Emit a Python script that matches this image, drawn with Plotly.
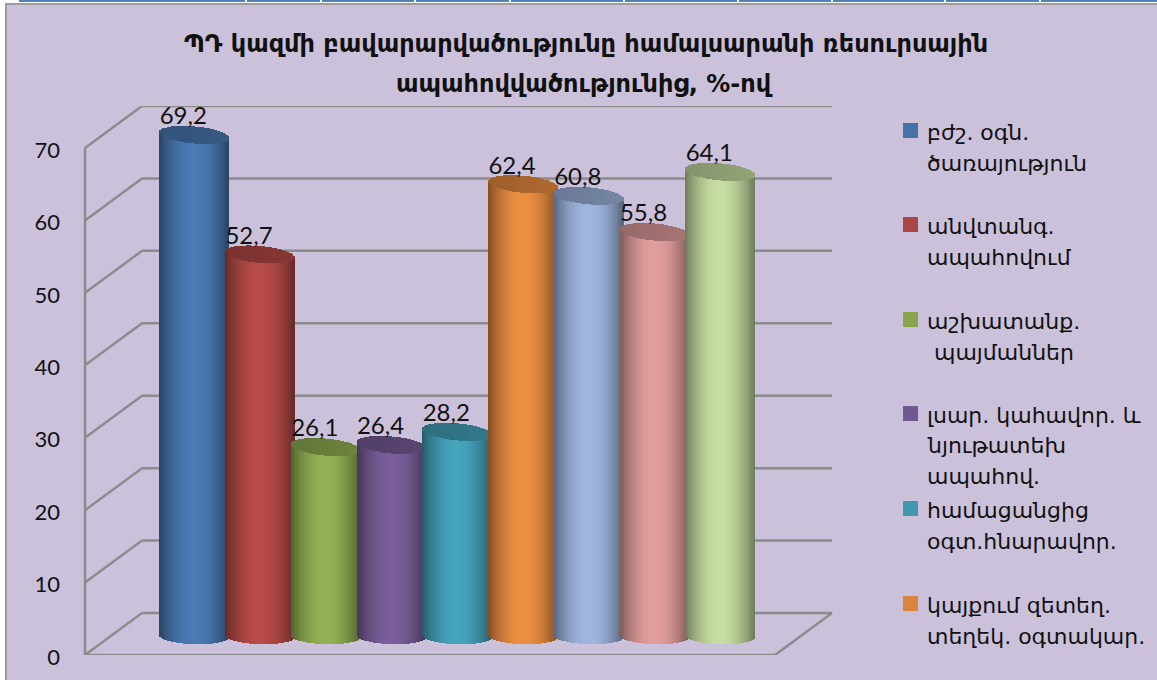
import numpy as np
import plotly.graph_objects as go

values = [69.2, 52.7, 26.1, 26.4, 28.2, 62.4, 60.8, 55.8, 64.1]
bar_colors = ["#4572A7", "#AA4643", "#89A54E", "#71588F", "#4198AF",
              "#DB843D", "#93A9CF", "#D19392", "#B9CD96"]
legend_labels = [
    ["բժշ. օգն.", "ծառայություն"],
    ["անվտանգ.", "ապահովում"],
    ["աշխատանք.", " պայմաններ"],
    ["լսար. կահավոր. և", "նյութատեխ", "ապահով."],
    ["համացանցից", "օգտ.հնարավոր."],
    ["կայքում զետեղ.", "տեղեկ. օգտակար."],
]
legend_swatch_top = [123, 217, 312, 406, 501, 596]
title_lines = ["ՊԴ կազմի բավարարվածությունը համալսարանի ռեսուրսային",
               "ապահովվածությունից, %-ով"]
y_ticks = [0, 10, 20, 30, 40, 50, 60, 70]

W, H = 1157, 680
PLOT_L, PLOT_R, PLOT_T, PLOT_B = 85, 832, 106, 655
Y_MAX = 75.8
PX_PER_UNIT = (PLOT_B - PLOT_T) / Y_MAX
FONT_ARM = "DejaVu Sans"
FONT_NUM = "Lato"


def px(x):
    return (x - PLOT_L) / (PLOT_R - PLOT_L)


def py(y):
    return (PLOT_B - y) / (PLOT_B - PLOT_T)


def shade(hex_color, factor):
    rgb = [int(hex_color[i:i + 2], 16) for i in (1, 3, 5)]
    return "rgb(%d,%d,%d)" % tuple(min(255, int(c * factor)) for c in rgb)


def cylinder_trace(i, value, color):
    # one bar per pixel column gives the round look, side first and the lid on top
    n = 46
    bar_w = 69 / 65.75
    u = (np.arange(n) + 0.5) / n * 2 - 1
    arc = np.sqrt(1 - u ** 2)
    skew = -u * 3 / PX_PER_UNIT
    floor = 2.6
    ry_base = 8 / PX_PER_UNIT
    ry_top = 8.5 / PX_PER_UNIT

    side_base = floor + skew / 3 - ry_base * arc
    side_top = floor + value + skew - ry_top * arc
    lid_top = floor + value + skew + ry_top * arc

    side_col = [shade(color, 1.08 - 0.48 * abs(a) ** 2) for a in u]
    lid_col = [shade(color, 0.76 + 0.04 * a) for a in u]

    xs = i + u * bar_w / 2
    return go.Bar(
        x=np.concatenate([xs, xs]).tolist(),
        y=np.concatenate([side_top - side_base, lid_top - side_top]).tolist(),
        base=np.concatenate([side_base, side_top]).tolist(),
        width=bar_w / n * 1.15,
        marker=dict(color=side_col + lid_col, line=dict(width=0)),
        showlegend=False,
        hoverinfo="skip",
    )


fig = go.Figure()

for i, (value, color) in enumerate(zip(values, bar_colors)):
    fig.add_trace(cylinder_trace(i, value, color))

fig.add_trace(go.Scatter(
    x=[i - 0.17 for i in range(len(values))],
    y=[v + 4.9 for v in values],
    mode="text",
    text=[str(v).replace(".", ",") for v in values],
    textposition="middle center",
    textfont=dict(family=FONT_NUM, size=24, color="#111111"),
    showlegend=False,
    hoverinfo="skip",
    cliponaxis=False,
))

shapes = []

# frame of the chart and the table border above it
shapes.append(dict(type="rect", xref="paper", yref="paper", layer="below",
                   x0=px(6), x1=px(1170), y0=py(4), y1=py(690),
                   fillcolor="#CBC1DB", line=dict(color="#9C9C9C", width=2)))
strip_gaps = [17, 245, 320, 414, 509, 623, 737, 831, 944, 1039, 1157]
for a, b in zip(strip_gaps[:-1], strip_gaps[1:]):
    shapes.append(dict(type="rect", xref="paper", yref="paper", layer="below",
                       x0=px(a + 2), x1=px(b), y0=py(0), y1=py(2),
                       fillcolor="#4F81BD", line=dict(width=0)))

# walls and floor of the 3d box
depth_x = px(PLOT_L + 57)
depth_y = 5.8
wall = dict(color="#8C8C8C", width=2.5)
for t in y_ticks:
    shapes.append(dict(type="line", xref="paper", yref="y", layer="below",
                       x0=0, y0=t, x1=depth_x, y1=t + depth_y, line=wall))
    shapes.append(dict(type="line", xref="paper", yref="y", layer="below",
                       x0=depth_x, y0=t + depth_y, x1=1, y1=t + depth_y, line=wall))
shapes.append(dict(type="line", xref="paper", yref="y", layer="below",
                   x0=0, y0=0, x1=0, y1=70, line=wall))
shapes.append(dict(type="line", xref="paper", yref="y", layer="below",
                   x0=0, y0=0, x1=px(775), y1=0, line=wall))
shapes.append(dict(type="line", xref="paper", yref="y", layer="below",
                   x0=px(775), y0=0, x1=1, y1=depth_y, line=wall))

annotations = []

for line, cx, cy in zip(title_lines, [586, 584], [44, 84]):
    annotations.append(dict(text=line, xref="paper", yref="paper", x=px(cx), y=py(cy),
                            xanchor="center", yanchor="middle", showarrow=False,
                            font=dict(family=FONT_ARM, size=24, color="#111111",
                                      weight="bold")))

for lines, top, color in zip(legend_labels, legend_swatch_top, bar_colors):
    shapes.append(dict(type="rect", xref="paper", yref="paper",
                       x0=px(903), x1=px(918), y0=py(top), y1=py(top + 15),
                       fillcolor=color, line=dict(width=0)))
    for k, line in enumerate(lines):
        indent = 7 if line.startswith(" ") else 0
        annotations.append(dict(text=line.strip(), xref="paper", yref="paper",
                                x=px(925 + indent), y=py(top + 9 + k * 31),
                                xanchor="left", yanchor="middle", showarrow=False,
                                font=dict(family=FONT_ARM, size=22, color="#111111")))

fig.update_layout(
    width=W,
    height=H,
    margin=dict(l=PLOT_L, r=W - PLOT_R, t=PLOT_T, b=H - PLOT_B, pad=0),
    paper_bgcolor="white",
    plot_bgcolor="rgba(0,0,0,0)",
    barmode="overlay",
    bargap=0,
    shapes=shapes,
    annotations=annotations,
    xaxis=dict(range=[(PLOT_L - 194.5) / 65.75, (PLOT_R - 194.5) / 65.75],
               visible=False, fixedrange=True, automargin=False),
    yaxis=dict(range=[0, Y_MAX], tickvals=y_ticks, showgrid=False, zeroline=False,
               showline=False, ticks="", ticklabelstandoff=24, ticklabelshift=2,
               tickfont=dict(family=FONT_NUM, size=22, color="#111111"),
               fixedrange=True, automargin=False),
)

fig.write_html("out.html", config=dict(displayModeBar=False),
               post_script="document.body.style.margin='0';")
